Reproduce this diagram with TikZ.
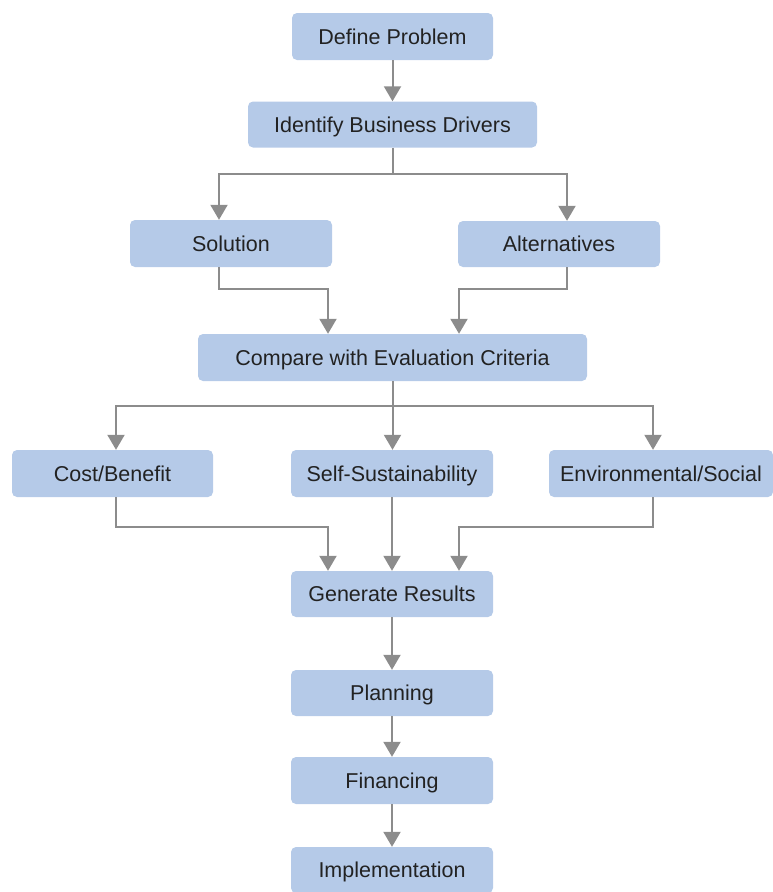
\documentclass[tikz,border=0pt]{standalone}
\usepackage{fontspec}
\setmainfont{Liberation Sans}
\usepackage{xcolor}
\usetikzlibrary{positioning, arrows.meta}

\definecolor{boxblue}{RGB}{181,202,232}
\definecolor{linegray}{RGB}{140,140,140}
\definecolor{textdark}{RGB}{34,34,34}

\tikzset{
    flowbox/.style={fill=boxblue, rounded corners=5pt, inner sep=0pt,
        minimum width=202pt, minimum height=47pt, text=textdark,
        text height=19.5pt, text depth=4.5pt,
        font=\fontsize{21.5}{26}\selectfont},
    feed/.style={draw=linegray, line width=2pt},
    flow/.style={feed, -{Triangle[width=17pt,length=15pt]}}
}

\begin{document}
\begin{tikzpicture}[x=1pt, y=-1pt]
    \useasboundingbox (0,0) rectangle (773,892);
    % Draw the boxes
    \node[flowbox, minimum width=201pt] (def) at (392.5,36.5) {Define Problem};
    \node[flowbox, minimum width=289pt, minimum height=46pt] (ident) at (392.5,124.5) {Identify Business Drivers};
    \node[flowbox] (sol) at (231,243.5) {Solution};
    \node[flowbox, minimum height=46pt] (alt) at (559,244) {Alternatives};
    \node[flowbox, minimum width=389pt] (comp) at (392.5,357.5) {Compare with Evaluation Criteria};
    \node[flowbox, minimum width=201pt] (cost) at (112.5,473.5) {Cost/Benefit};
    \node[flowbox] (self) at (392,473.5) {Self-Sustainability};
    \node[flowbox, minimum width=224pt] (env) at (661,473.5) {Environmental/Social};
    \node[flowbox, minimum height=46pt] (gen) at (392,594) {Generate Results};
    \node[flowbox, minimum height=46pt] (plan) at (392,693) {Planning};
    \node[flowbox] (fin) at (392,780.5) {Financing};
    \node[flowbox, minimum height=46pt] (impl) at (392,870) {Implementation};

    % Split after the business drivers
    \draw[flow] (def) -- (ident);
    \draw[feed] (ident.south) -- ++(0,26) coordinate (split1);
    \draw[flow] (split1) -| ([xshift=-12pt]sol.north);
    \draw[flow] (split1) -| ([xshift=8pt]alt.north);

    % Merge into the comparison
    \draw[flow] ([xshift=-12pt]sol.south) -- ++(0,22) -| ([xshift=-64.5pt]comp.north);
    \draw[flow] ([xshift=8pt]alt.south) -- ++(0,22) -| ([xshift=66.5pt]comp.north);

    % Three criteria
    \draw[feed] (comp.south) -- ++(0,25) coordinate (split2);
    \draw[flow] (split2) -| ([xshift=3.5pt]cost.north);
    \draw[flow] (split2) -- (split2 |- self.north);
    \draw[flow] (split2) -| ([xshift=-8pt]env.north);

    % Merge into the results
    \draw[flow] ([xshift=3.5pt]cost.south) -- ++(0,30) -| ([xshift=-64pt]gen.north);
    \draw[flow] (self) -- (gen);
    \draw[flow] ([xshift=-8pt]env.south) -- ++(0,30) -| ([xshift=67pt]gen.north);

    % Last steps
    \draw[flow] (gen) -- (plan);
    \draw[flow] (plan) -- (fin);
    \draw[flow] (fin) -- (impl);
\end{tikzpicture}
\end{document}
